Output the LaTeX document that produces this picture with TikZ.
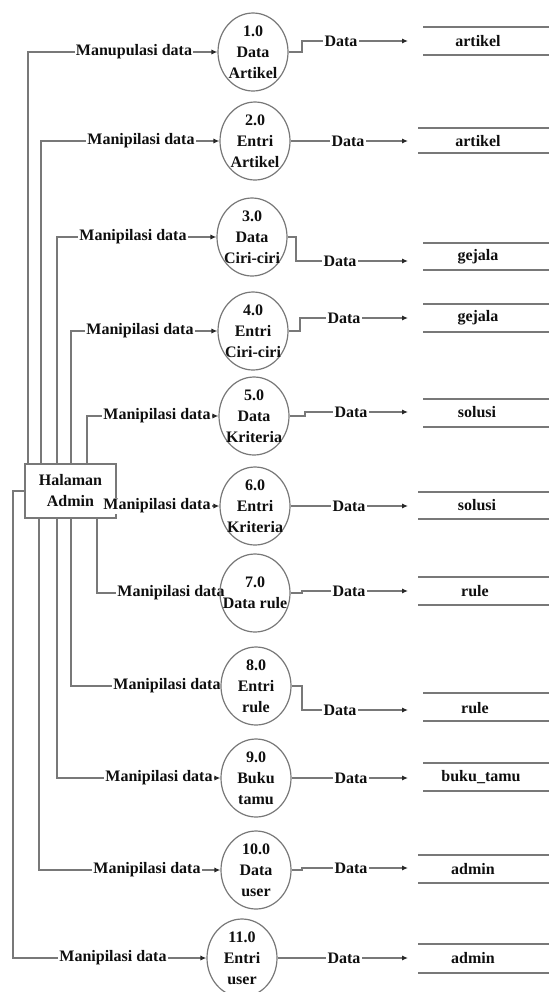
\documentclass[tikz,border=0pt]{standalone}
\usepackage{fontspec}
\setmainfont{Liberation Serif}
\usetikzlibrary{shapes.geometric,arrows.meta}
\definecolor{linegray}{RGB}{120,120,120}
\definecolor{txt}{RGB}{15,15,15}
\definecolor{tipc}{RGB}{40,40,40}
\pgfdeclarelayer{bg}
\pgfsetlayers{bg,main}
\begin{document}
\begin{tikzpicture}[x=0.5pt,y=-0.5pt,
  font=\fontsize{8pt}{10.5pt}\selectfont\bfseries,
  text=txt,
  ln/.style={draw=linegray,line width=0.6pt},
  arr/.style={ln,-{Latex[length=3pt,width=2.6pt,color=tipc]}},
  proc/.style={ellipse,draw=linegray,line width=0.6pt,minimum width=35pt,minimum height=39pt,inner sep=0pt},
  ptext/.style={align=center,inner sep=0pt},
  lbl/.style={fill=white,inner sep=0.6pt},
  stxt/.style={inner sep=0pt},
  ent/.style={draw=linegray,line width=0.6pt,minimum width=45.5pt,minimum height=27pt,align=center,inner sep=0pt,fill=white}
]
\useasboundingbox (0,0) rectangle (549,992);

% processes
\node[proc] (p1) at (253,52) {};
\node[ptext] (t1) at (p1) {1.0\\Data\\Artikel};
\node[proc] (p2) at (255,141) {};
\node[ptext] (t2) at (p2) {2.0\\Entri\\Artikel};
\node[proc] (p3) at (252,237) {};
\node[ptext] (t3) at (p3) {3.0\\Data\\Ciri-ciri};
\node[proc] (p4) at (253,331) {};
\node[ptext] (t4) at (p4) {4.0\\Entri\\Ciri-ciri};
\node[proc] (p5) at (254,416) {};
\node[ptext] (t5) at (p5) {5.0\\Data\\Kriteria};
\node[proc] (p6) at (255,506) {};
\node[ptext] (t6) at (p6) {6.0\\Entri\\Kriteria};
\node[proc] (p7) at (255,593) {};
\node[ptext] (t7) at (p7) {7.0\\Data rule};
\node[proc] (p8) at (256,686) {};
\node[ptext] (t8) at (p8) {8.0\\Entri\\rule};
\node[proc] (p9) at (256,778) {};
\node[ptext] (t9) at (p9) {9.0\\Buku\\tamu};
\node[proc] (p10) at (256,870) {};
\node[ptext] (t10) at (p10) {10.0\\Data\\user};
\node[proc] (p11) at (242,958) {};
\node[ptext] (t11) at (p11) {11.0\\Entri\\user};

\begin{pgfonlayer}{bg}
% external entity
\node[ent] (hb) at (70.5,491) {Halaman\\Admin};

% data stores
\node[stxt] (s1) at (478,41) {artikel};
\draw[ln] (423,27) -- (549,27) (423,55) -- (549,55);
\node[stxt] (s2) at (478,141) {artikel};
\draw[ln] (418,128) -- (549,128) (418,153) -- (549,153);
\node[stxt] (s3) at (478,257) {gejala};
\draw[ln] (423,243) -- (549,243) (423,270) -- (549,270);
\node[stxt] (s4) at (478,318) {gejala};
\draw[ln] (423,304) -- (549,304) (423,332) -- (549,332);
\node[stxt] (s5) at (477,412) {solusi};
\draw[ln] (423,399) -- (549,399) (423,427) -- (549,427);
\node[stxt] (s6) at (477,505) {solusi};
\draw[ln] (418,492) -- (549,492) (418,519) -- (549,519);
\node[stxt] (s7) at (475,591) {rule};
\draw[ln] (418,577) -- (549,577) (418,605) -- (549,605);
\node[stxt] (s8) at (475,708) {rule};
\draw[ln] (423,693) -- (549,693) (423,721) -- (549,721);
\node[stxt] (s9) at (481,777) {buku\_tamu};
\draw[ln] (423,763) -- (549,763) (423,791) -- (549,791);
\node[stxt] (s10) at (473,869) {admin};
\draw[ln] (418,855) -- (549,855) (418,883) -- (549,883);
\node[stxt] (s11) at (473,958) {admin};
\draw[ln] (418,944) -- (549,944) (418,973) -- (549,973);

% vertical positions of the left buses
\coordinate (v1) at (28,0);
\coordinate (v2) at (41,0);
\coordinate (v3) at (57,0);
\coordinate (v4) at (71,0);
\coordinate (v5) at (87,0);
\coordinate (v7) at (97,0);
\coordinate (v8) at (71,0);
\coordinate (v9) at (57,0);
\coordinate (v10) at (39,0);
\coordinate (v11) at (13,0);

% admin -> processes
\draw[arr] (hb.north -| v1) |- (p1.west);
\draw[arr] (hb.north -| v2) |- (p2.west);
\draw[arr] (hb.north -| v3) |- (p3.west);
\draw[arr] (hb.north -| v4) |- (p4.west);
\draw[arr] (hb.north -| v5) |- (p5.west);
\draw[arr] (p6.west -| hb.east) -- (p6.west);
\draw[arr] (hb.south -| v7) |- (p7.west);
\draw[arr] (hb.south -| v8) |- (p8.west);
\draw[arr] (hb.south -| v9) |- (p9.west);
\draw[arr] (hb.south -| v10) |- (p10.west);
\draw[arr] (hb.west) -- (hb.west -| v11) |- (p11.west);

\node[lbl] (m1) at (134,52) {Manupulasi data};
\node[lbl] (m2) at (141,141) {Manipilasi data};
\node[lbl] (m3) at (133,237) {Manipilasi data};
\node[lbl] (m4) at (140,331) {Manipilasi data};
\node[lbl] (m5) at (157,416) {Manipilasi data};
\node[lbl] (m6) at (157,506) {Manipilasi data};
\node[lbl] (m7) at (171,593) {Manipilasi data};
\node[lbl] (m8) at (167,686) {Manipilasi data};
\node[lbl] (m9) at (159,778) {Manipilasi data};
\node[lbl] (m10) at (147,870) {Manipilasi data};
\node[lbl] (m11) at (113,958) {Manipilasi data};

% processes -> stores
\coordinate (d1) at (408,41);   \coordinate (k1) at (302,0);
\coordinate (d2) at (408,141);  \coordinate (k2) at (302,0);
\coordinate (d3) at (408,261);  \coordinate (k3) at (296,0);
\coordinate (d4) at (408,318);  \coordinate (k4) at (300,0);
\coordinate (d5) at (408,412);  \coordinate (k5) at (305,0);
\coordinate (d6) at (408,506);  \coordinate (k6) at (302,0);
\coordinate (d7) at (408,591);  \coordinate (k7) at (302,0);
\coordinate (d8) at (408,710);  \coordinate (k8) at (302,0);
\coordinate (d9) at (408,778);  \coordinate (k9) at (302,0);
\coordinate (d10) at (408,868); \coordinate (k10) at (302,0);
\coordinate (d11) at (408,958); \coordinate (k11) at (287,0);

\draw[arr] (p1.east) -- (p1.east -| k1) |- (d1);
\draw[arr] (p2.east) -- (p2.east -| k2) |- (d2);
\draw[arr] (p3.east) -- (p3.east -| k3) |- (d3);
\draw[arr] (p4.east) -- (p4.east -| k4) |- (d4);
\draw[arr] (p5.east) -- (p5.east -| k5) |- (d5);
\draw[arr] (p6.east) -- (p6.east -| k6) |- (d6);
\draw[arr] (p7.east) -- (p7.east -| k7) |- (d7);
\draw[arr] (p8.east) -- (p8.east -| k8) |- (d8);
\draw[arr] (p9.east) -- (p9.east -| k9) |- (d9);
\draw[arr] (p10.east) -- (p10.east -| k10) |- (d10);
\draw[arr] (p11.east) -- (p11.east -| k11) |- (d11);

\node[lbl] (l1) at (341,41) {Data};
\node[lbl] (l2) at (348,141) {Data};
\node[lbl] (l3) at (340,261) {Data};
\node[lbl] (l4) at (344,318) {Data};
\node[lbl] (l5) at (351,412) {Data};
\node[lbl] (l6) at (349,506) {Data};
\node[lbl] (l7) at (349,591) {Data};
\node[lbl] (l8) at (340,710) {Data};
\node[lbl] (l9) at (351,778) {Data};
\node[lbl] (l10) at (351,868) {Data};
\node[lbl] (l11) at (344,958) {Data};
\end{pgfonlayer}
\end{tikzpicture}
\end{document}
